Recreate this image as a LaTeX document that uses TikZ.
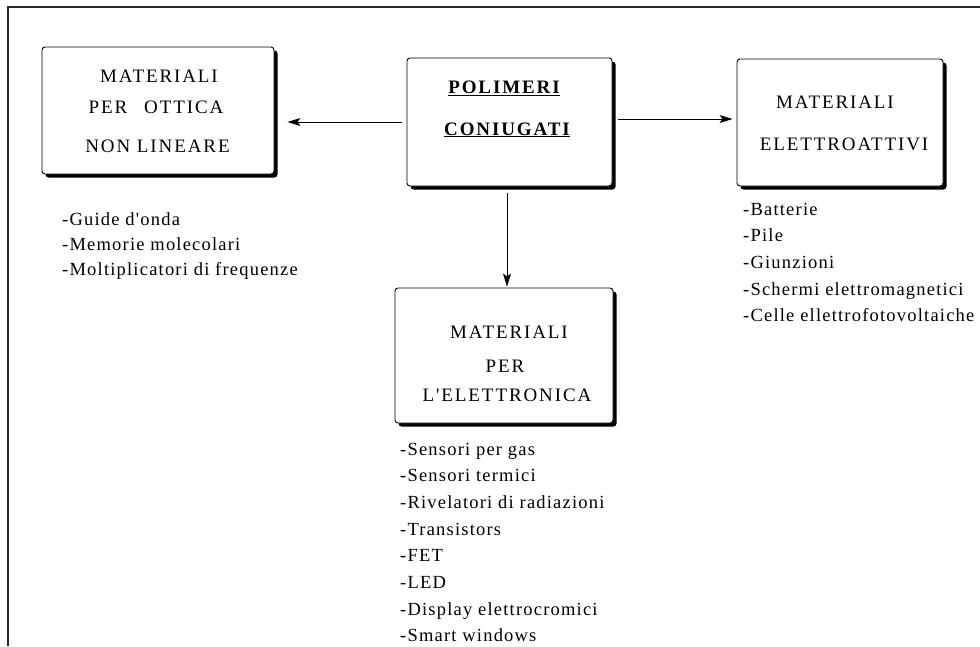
\documentclass[tikz,border=0pt]{standalone}
\usepackage{fontspec}
\setmainfont{Liberation Serif}
\newfontfamily\ttlfont[LetterSpace=10]{Liberation Serif}
\newfontfamily\lstfont[LetterSpace=6.5]{Liberation Serif}
\usetikzlibrary{shadows,arrows.meta}
\begin{document}
\begin{tikzpicture}[x=1pt,y=-1pt,
  box/.style={draw=black,line width=0.9pt,rounded corners=3pt,fill=white,
    drop shadow={shadow xshift=3.5pt,shadow yshift=-3.5pt,fill=black,opacity=1},
    inner sep=0pt},
  ttl/.style={anchor=base,inner sep=0pt,font=\fontsize{19}{22}\ttlfont},
  item/.style={anchor=base west,inner sep=0pt,font=\fontsize{18.5}{22}\lstfont},
  arr/.style={draw=black,line width=0.9pt,-{Stealth[length=13pt,width=8pt,inset=3pt]}},
  frame/.style={draw=black!85,line width=1.1pt}]
\useasboundingbox (0,0) rectangle (980,646);
\draw[frame] (980,7) -- (8,7) -- (8,646);

% boxes
\node[box,minimum width=232pt,minimum height=127pt] (l) at (158,110.5) {};
\node[box,minimum width=205pt,minimum height=128pt] (c) at (509.5,122) {};
\node[box,minimum width=206pt,minimum height=127pt] (r) at (840,122.5) {};
\node[box,minimum width=218pt,minimum height=135pt] (b) at (504,355.5) {};

% titles
\node[ttl] (l1) at (159,82) {MATERIALI};
\node[ttl] (l2) at (156,113) {PER\hspace{17pt}OTTICA};
\node[ttl] (l3) at (157.5,152.5) {NON LINEARE};
\node[ttl,font=\fontsize{19}{22}\ttlfont\bfseries] (c1) at (504,93.3) {\underline{POLIMERI}};
\node[ttl,font=\fontsize{19}{22}\ttlfont\bfseries] (c2) at (507,135) {\underline{CONIUGATI}};
\node[ttl] (r1) at (835,108.3) {MATERIALI};
\node[ttl] (r2) at (844,150) {ELETTROATTIVI};
\node[ttl] (b1) at (509,338.3) {MATERIALI};
\node[ttl] (b2) at (505,372.7) {PER};
\node[ttl] (b3) at (507,401) {L'ELETTRONICA};

% arrows
\draw[arr,shorten <=5pt,shorten >=13pt] (c.west) -- (c.west -| l.east);
\draw[arr,shorten <=6pt,shorten >=4pt] ([yshift=3pt]c.east) -- ([yshift=3pt]c.east -| r.west);
\draw[arr,shorten <=7pt,shorten >=1pt] ([xshift=-2.5pt]c.south) -- ([xshift=-2.5pt]c.south |- b.north);

% lists
\node[item] (li1) at (62,225) {-Guide d'onda};
\node[item] (li2) at (62,250) {-Memorie molecolari};
\node[item] (li3) at (62,275) {-Moltiplicatori di frequenze};

\node[item] (ri1) at (743,215) {-Batterie};
\node[item] (ri2) at (743,241.67) {-Pile};
\node[item] (ri3) at (743,268.33) {-Giunzioni};
\node[item] (ri4) at (743,295) {-Schermi elettromagnetici};
\node[item] (ri5) at (743,321.67) {-Celle ellettrofotovoltaiche};

\node[item] (bi1) at (400,455) {-Sensori per gas};
\node[item] (bi2) at (400,481.67) {-Sensori termici};
\node[item] (bi3) at (400,508.33) {-Rivelatori di radiazioni};
\node[item] (bi4) at (400,535) {-Transistors};
\node[item] (bi5) at (400,561.67) {-FET};
\node[item] (bi6) at (400,588.33) {-LED};
\node[item] (bi7) at (400,615) {-Display elettrocromici};
\node[item] (bi8) at (400,641.67) {-Smart windows};
\end{tikzpicture}
\end{document}
